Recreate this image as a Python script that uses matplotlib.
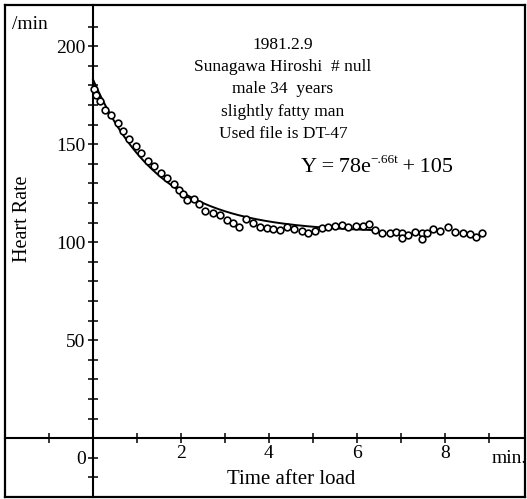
import numpy as np
import matplotlib
matplotlib.use("Agg")
import matplotlib.pyplot as plt
from matplotlib.ticker import FixedLocator, FixedFormatter

plt.rcParams["font.family"] = ["Liberation Serif", "DejaVu Serif"]

# heart rate after exercise load
time_min = [0.03, 0.06, 0.17, 0.28, 0.42, 0.57, 0.69, 0.82, 0.97, 1.10,
            1.24, 1.38, 1.55, 1.68, 1.84, 1.95, 2.05, 2.14, 2.30, 2.42,
            2.55, 2.73, 2.88, 3.05, 3.18, 3.33, 3.48, 3.64, 3.80, 3.95,
            4.09, 4.26, 4.41, 4.57, 4.74, 4.89, 5.05, 5.20, 5.35, 5.50,
            5.66, 5.80, 5.98, 6.14, 6.27, 6.41, 6.57, 6.74, 6.89, 7.02,
            7.02, 7.15, 7.32, 7.48, 7.48, 7.59, 7.73, 7.89, 8.07, 8.23,
            8.41, 8.57, 8.70, 8.85]
heart_rate = [178.1, 175.0, 171.9, 167.3, 164.8, 160.7, 156.6, 152.6, 149.0, 145.4,
              141.3, 138.8, 135.2, 132.7, 129.6, 126.5, 124.5, 121.4, 121.9, 119.4,
              116.1, 115.1, 113.8, 111.5, 110.0, 107.7, 111.7, 109.7, 107.7, 107.1,
              106.9, 106.4, 107.7, 106.6, 105.6, 104.6, 105.6, 107.1, 107.9, 108.2,
              108.7, 107.7, 108.2, 108.4, 109.2, 106.4, 104.6, 104.6, 105.4, 104.6,
              102.0, 103.8, 105.1, 104.6, 101.5, 104.8, 106.6, 105.9, 107.7, 105.4,
              104.6, 104.1, 102.6, 104.8]

# fitted model printed on the chart: Y = 78 e^(-.66 t) + 105
FIT_A, FIT_K, FIT_C = 78, 0.66, 105
FIT_T_END = 6.4

info_lines = ["1981.2.9", "Sunagawa Hiroshi  # null", "male 34  years",
              "slightly fatty man", "Used file is DT-47"]

x_ticks = [-1, 1, 2, 3, 4, 5, 6, 7, 8, 9]
x_labels = ["", "", "2", "", "4", "", "6", "", "8", ""]
y_ticks = [-20, -10, 10, 20, 30, 40, 50, 60, 70, 80, 90, 100, 110, 120,
           130, 140, 150, 160, 170, 180, 190, 200, 210]
y_labels = ["", "0", "", "", "", "", "50", "", "", "", "", "100", "", "",
            "", "", "150", "", "", "", "", "200", ""]

fig = plt.figure(figsize=(5.27, 4.99), dpi=100)
pos = [0.0095, 0.004, 0.9867, 0.986]

# outer frame
frame = fig.add_axes(pos)
frame.set_xticks([])
frame.set_yticks([])
for sp in frame.spines.values():
    sp.set_linewidth(1.6)

ax = fig.add_axes(pos, facecolor="none")
ax.set_xlim(-2.0, 9.82)
ax.set_ylim(-30, 221)
ax.spines["left"].set_position(("data", 0))
ax.spines["bottom"].set_position(("data", 0))
ax.spines["top"].set_visible(False)
ax.spines["right"].set_visible(False)
ax.spines["left"].set_linewidth(1.5)
ax.spines["bottom"].set_linewidth(1.5)

ax.xaxis.set_major_locator(FixedLocator(x_ticks))
ax.xaxis.set_major_formatter(FixedFormatter(x_labels))
ax.yaxis.set_major_locator(FixedLocator(y_ticks))
ax.yaxis.set_major_formatter(FixedFormatter(y_labels))
ax.tick_params(axis="both", direction="inout", length=6.5, width=1.1,
               labelsize=14, pad=2)

# fit curve
t = np.linspace(0, FIT_T_END, 200)
ax.plot(t, FIT_A * np.exp(-FIT_K * t) + FIT_C, color="black", lw=1.4,
        zorder=2)
ax.plot(time_min, heart_rate, "o", ms=4.8, mfc="white", mec="black", mew=1.2,
        zorder=3)

# annotations
for i, line in enumerate(info_lines):
    ax.text(4.32, 200.5 - i * 11.3, line, ha="center", va="center",
            fontsize=12.5)

# equation, built from pieces so the exponent sits tight
eq1 = ax.text(4.72, 138.3, "Y\u2009=\u200978e", ha="left", va="center",
              fontsize=16)
eq2 = ax.annotate("\u2212.66t", xy=(1, 0.55), xycoords=eq1, ha="left",
                  va="bottom", fontsize=9.5)
ax.annotate("\u2009+\u2009105", xy=(1, 0), xycoords=(eq2, eq1), ha="left",
            va="bottom", fontsize=16)

ax.text(-1.85, 211, "/min", ha="left", va="center", fontsize=14)
ax.text(-1.6, 112, "Heart Rate", ha="center", va="center", rotation=90,
        fontsize=14.5)
ax.text(4.5, -21, "Time after load", ha="center", va="center", fontsize=15)
ax.text(9.45, -10.5, "min.", ha="center", va="center", fontsize=14)

fig.savefig("out.png", dpi=100)
